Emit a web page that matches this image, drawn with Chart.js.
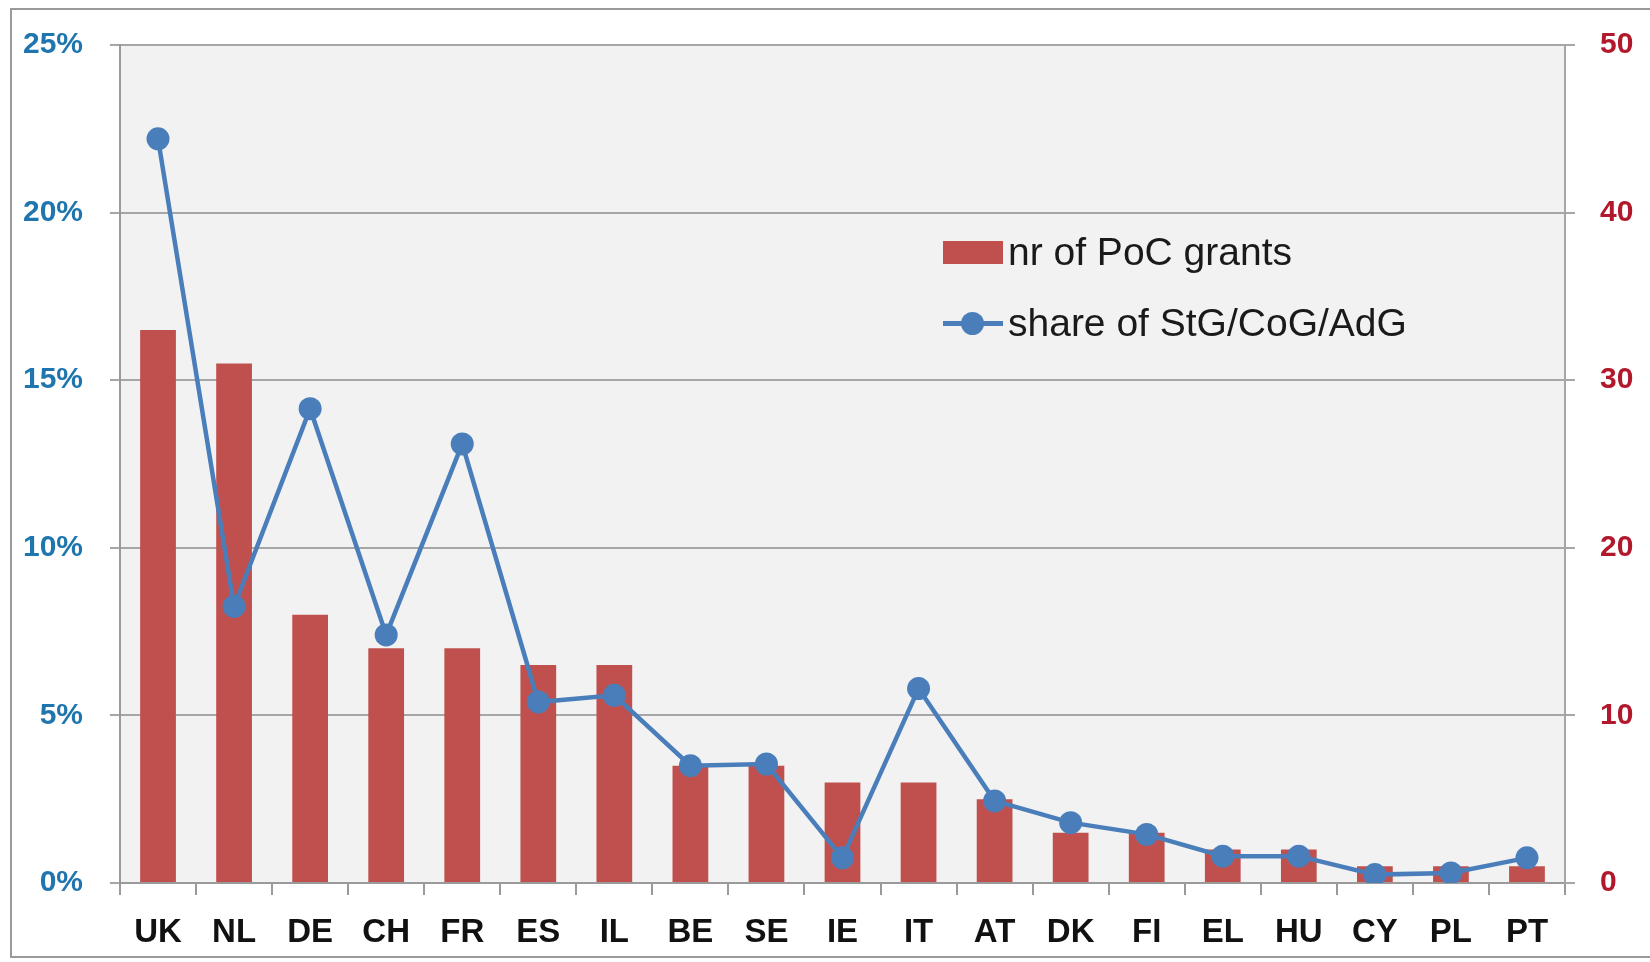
<!DOCTYPE html>
<html lang="en">
<head>
    <meta charset="UTF-8">
    <title>PoC grants by country</title>
    <style>
        body {
            margin: 0;
            background: #fff;
            font-family: 'Liberation Sans', sans-serif;
        }
        .frame {
            position: absolute;
            left: 10px;
            top: 8px;
            width: 1660px;
            height: 950px;
            border: 2px solid #9a9a9a;
            box-sizing: border-box;
        }
        .wrap {
            position: absolute;
            left: 0;
            top: 0;
            width: 1650px;
            height: 962px;
        }
        .legend {
            position: absolute;
            left: 943px;
            top: 230px;
            font-family: 'Liberation Sans', sans-serif;
            font-size: 39px;
            color: #1a1a1a;
        }
        .legend div {
            display: flex;
            align-items: center;
            height: 44px;
            margin-bottom: 27px;
        }
        .swatch {
            width: 60px;
            height: 23px;
            background: #c0504d;
            margin-right: 5px;
        }
        .lineKey {
            position: relative;
            width: 60px;
            height: 23px;
            margin-right: 5px;
        }
        .lineKey::before {
            content: '';
            position: absolute;
            left: 0; right: 0; top: 9px;
            height: 5px;
            background: #4a7ebb;
        }
        .lineKey::after {
            content: '';
            position: absolute;
            left: 18px; top: 0;
            width: 23px; height: 23px;
            border-radius: 50%;
            background: #4a7ebb;
        }
    </style>
</head>
<body>
<div class="frame"></div>
<div class="wrap">
    <canvas id="chart" width="1650" height="962"></canvas>
</div>
<div class="legend">
    <div><span class="swatch"></span>nr of PoC grants</div>
    <div><span class="lineKey"></span>share of StG/CoG/AdG</div>
</div>

<script src="https://cdn.jsdelivr.net/npm/chart.js@4.4.1/dist/chart.umd.min.js"></script>
<script>
    const countries = ['UK', 'NL', 'DE', 'CH', 'FR', 'ES', 'IL', 'BE', 'SE', 'IE', 'IT', 'AT', 'DK', 'FI', 'EL', 'HU', 'CY', 'PL', 'PT'];
    // number of PoC grants (right axis)
    const pocGrants = [33, 31, 16, 14, 14, 13, 13, 7, 7, 6, 6, 5, 3, 3, 2, 2, 1, 1, 1];
    // share of StG/CoG/AdG in % (left axis)
    const shareGrants = [22.2, 8.25, 14.15, 7.4, 13.1, 5.4, 5.6, 3.5, 3.55, 0.75, 5.8, 2.45, 1.8, 1.45, 0.8, 0.8, 0.25, 0.3, 0.75];
    const leftTicks = [0, 5, 10, 15, 20, 25];
    const rightTicks = [0, 10, 20, 30, 40, 50];

    // grey plot background
    const plotBg = {
        id: 'plotBg',
        beforeDraw(chart) {
            const a = chart.chartArea;
            const c = chart.ctx;
            c.save();
            c.fillStyle = '#f2f2f2';
            c.fillRect(a.left, a.top, a.right - a.left, a.bottom - a.top);
            c.restore();
        }
    };

    const ctx = document.getElementById('chart').getContext('2d');
    new Chart(ctx, {
        data: {
            labels: countries,
            datasets: [
                {
                    type: 'line',
                    label: 'share of StG/CoG/AdG',
                    data: shareGrants,
                    yAxisID: 'y',
                    borderColor: '#4a7ebb',
                    backgroundColor: '#4a7ebb',
                    borderWidth: 4.5,
                    pointRadius: 11.5,
                    pointBorderWidth: 0,
                    tension: 0,
                    order: 0
                },
                {
                    type: 'bar',
                    label: 'nr of PoC grants',
                    data: pocGrants,
                    yAxisID: 'y1',
                    backgroundColor: '#c0504d',
                    barPercentage: 0.47,
                    categoryPercentage: 1,
                    order: 1
                }
            ]
        },
        options: {
            responsive: false,
            animation: false,
            layout: { padding: { top: 42, left: 0, right: 0, bottom: 0 } },
            plugins: {
                legend: { display: false },
                tooltip: { enabled: false }
            },
            scales: {
                x: {
                    offset: true,
                    afterFit(s) { s.height = 79; },
                    grid: {
                        offset: true,
                        drawOnChartArea: false,
                        color: '#9a9a9a',
                        lineWidth: 2,
                        tickLength: 12
                    },
                    border: { color: '#9a9a9a', width: 2 },
                    ticks: {
                        color: '#111',
                        padding: 18,
                        font: { family: "'Liberation Sans', sans-serif", size: 33, weight: 'bold' }
                    }
                },
                y: {
                    position: 'left',
                    min: 0,
                    max: 25,
                    afterFit(s) { s.width = 120; },
                    afterBuildTicks(s) { s.ticks = leftTicks.map(v => ({ value: v })); },
                    grid: { color: '#a6a6a6', lineWidth: 2, tickLength: 10 },
                    border: { color: '#9a9a9a', width: 2 },
                    ticks: {
                        color: '#1f75ad',
                        padding: 27,
                        callback: v => v + '%',
                        font: { family: "'Liberation Sans', sans-serif", size: 30, weight: 'bold' }
                    }
                },
                y1: {
                    position: 'right',
                    min: 0,
                    max: 50,
                    afterFit(s) { s.width = 85; },
                    afterBuildTicks(s) { s.ticks = rightTicks.map(v => ({ value: v })); },
                    grid: { drawOnChartArea: false, color: '#a6a6a6', lineWidth: 2, tickLength: 10 },
                    border: { color: '#a6a6a6', width: 2 },
                    ticks: {
                        color: '#b2182b',
                        padding: 25,
                        font: { family: "'Liberation Sans', sans-serif", size: 30, weight: 'bold' }
                    }
                }
            }
        },
        plugins: [plotBg]
    });
</script>
</body>
</html>
